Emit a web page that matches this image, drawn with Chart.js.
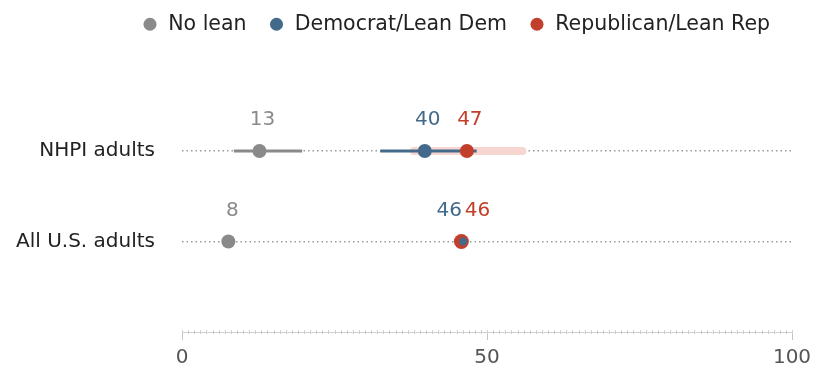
<!DOCTYPE html>
<html>
<head>
<meta charset="utf-8">
<script src="https://cdn.jsdelivr.net/npm/chart.js@4"></script>
<style>
  html, body { margin: 0; padding: 0; background: #fff; }
  #wrap { width: 840px; height: 390px; }
</style>
</head>
<body>
<div id="wrap"><canvas id="leanChart" width="840" height="390"></canvas></div>
<script>
// groups (rows), from top to bottom
const groups = ["NHPI adults", "All U.S. adults"];
const seriesNames = ["No lean", "Democrat/Lean Dem", "Republican/Lean Rep"];

// point estimates (%)
const noLean = [12.7, 7.6];
const demLean = [39.8, 46.1];
const repLean = [46.7, 45.8];

// confidence ranges (only shown for NHPI)
const noLeanLow = [8.5, null];
const noLeanHigh = [19.7, null];
const demLow = [32.5, null];
const demHigh = [48.3, null];
const repLow = [38, null];
const repHigh = [55.8, null];

const xTicks = [0, 50, 100];

const FONT = "'DejaVu Sans', 'Liberation Sans', sans-serif";
const GRAY = "#8a8a8a";
const BLUE = "#436a8a";
const RED = "#c2402b";
const PINK = "#f7d5d0";

function points(vals) {
    return vals.map((v, i) => ({ x: v, y: i + 1 }));
}

function rangeLine(lo, hi) {
    const out = [];
    lo.forEach((v, i) => {
        if (v === null) return;
        if (out.length) out.push({ x: null, y: null });
        out.push({ x: v, y: i + 1 }, { x: hi[i], y: i + 1 });
    });
    return out;
}

// value labels above the dots, nudged sideways where they collide
const labelShift = {
    0: [3, 4],
    1: [3, -14],
    2: [3, 16],
};

const valueLabels = {
    id: "valueLabels",
    afterDatasetsDraw(chart) {
        const { ctx, scales } = chart;
        ctx.save();
        ctx.font = "20px " + FONT;
        ctx.textAlign = "center";
        ctx.textBaseline = "middle";
        [0, 1, 2].forEach((di) => {
            const ds = chart.data.datasets[di];
            ds.data.forEach((p, i) => {
                ctx.fillStyle = ds.labelColor;
                ctx.fillText(
                    Math.round(p.x),
                    scales.x.getPixelForValue(p.x) + labelShift[di][i],
                    scales.y.getPixelForValue(p.y) - 31
                );
            });
        });
        ctx.restore();
    },
};

// small minor ticks on the x axis, one per unit
const minorTicks = {
    id: "minorTicks",
    afterDraw(chart) {
        const { ctx, scales, chartArea } = chart;
        ctx.save();
        ctx.strokeStyle = "#cfcfcf";
        ctx.lineWidth = 1;
        for (let v = 0; v <= 100; v++) {
            const px = Math.round(scales.x.getPixelForValue(v)) + 0.5;
            ctx.beginPath();
            ctx.moveTo(px, chartArea.bottom - 2);
            ctx.lineTo(px, chartArea.bottom + 2);
            ctx.stroke();
        }
        ctx.restore();
    },
};

// extra room under the legend
const legendGap = {
    id: "legendGap",
    beforeInit(chart) {
        const fit = chart.legend.fit;
        chart.legend.fit = function () {
            fit.call(this);
            this.height += 16;
        };
    },
};

new Chart(document.getElementById("leanChart").getContext("2d"), {
    type: "scatter",
    data: {
        datasets: [
            {
                label: seriesNames[0],
                data: points(noLean),
                backgroundColor: GRAY,
                borderColor: GRAY,
                pointRadius: 7,
                pointBorderWidth: 0,
                labelColor: GRAY,
                order: 2,
            },
            {
                label: seriesNames[1],
                data: points(demLean),
                backgroundColor: BLUE,
                borderColor: BLUE,
                pointRadius: [7, 4],
                pointBorderWidth: 0,
                labelColor: BLUE,
                order: 0,
            },
            {
                label: seriesNames[2],
                data: points(repLean),
                backgroundColor: RED,
                borderColor: RED,
                pointRadius: [7, 7.5],
                pointBorderWidth: 0,
                labelColor: RED,
                order: 1,
            },
            {
                label: "noLeanRange",
                data: rangeLine(noLeanLow, noLeanHigh),
                showLine: true,
                borderColor: GRAY,
                borderWidth: 3,
                pointRadius: 0,
                order: 3,
            },
            {
                label: "demRange",
                data: rangeLine(demLow, demHigh),
                showLine: true,
                borderColor: BLUE,
                borderWidth: 3,
                pointRadius: 0,
                order: 4,
            },
            {
                label: "repRange",
                data: rangeLine(repLow, repHigh),
                showLine: true,
                borderColor: PINK,
                borderWidth: 8,
                borderCapStyle: "round",
                pointRadius: 0,
                order: 5,
            },
        ],
    },
    options: {
        responsive: false,
        animation: false,
        layout: { padding: { top: -8, right: 48, bottom: 14, left: -11 } },
        plugins: {
            tooltip: { enabled: false },
            legend: {
                display: true,
                position: "top",
                align: "end",
                labels: {
                    usePointStyle: true,
                    pointStyle: "circle",
                    boxWidth: 16,
                    boxHeight: 9.2,
                    padding: 22,
                    color: "#222",
                    font: { family: FONT, size: 20.5 },
                    filter: (item) => item.datasetIndex < 3,
                    sort: (a, b) => a.datasetIndex - b.datasetIndex,
                },
            },
        },
        scales: {
            x: {
                type: "linear",
                min: 0,
                max: 100,
                afterBuildTicks: (axis) => {
                    axis.ticks = xTicks.map((v) => ({ value: v }));
                },
                ticks: {
                    color: "#555",
                    padding: 6,
                    font: { family: FONT, size: 20 },
                },
                grid: {
                    drawOnChartArea: false,
                    tickLength: 8,
                    tickColor: "#c4c4c4",
                },
                border: { color: "#cfcfcf" },
            },
            y: {
                type: "linear",
                reverse: true,
                min: 0,
                max: 3,
                afterBuildTicks: (axis) => {
                    axis.ticks = groups.map((g, i) => ({ value: i + 1 }));
                },
                ticks: {
                    color: "#222",
                    padding: 27,
                    font: { family: FONT, size: 20 },
                    callback: (v) => groups[v - 1] || "",
                },
                grid: {
                    color: "#999",
                    lineWidth: 1.5,
                    drawTicks: false,
                    borderDash: [1.5, 3],
                },
                border: { display: false, dash: [1.5, 3] },
            },
        },
    },
    plugins: [valueLabels, minorTicks, legendGap],
});
</script>
</body>
</html>
